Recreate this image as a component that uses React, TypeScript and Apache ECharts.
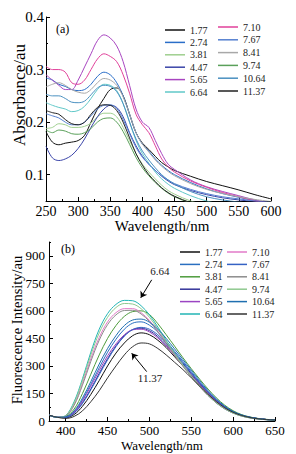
import React, { useEffect, useRef } from 'react';
import * as echarts from 'echarts';

const FONT = '"Liberation Serif", "Times New Roman", serif';

// ---- shared ----
const phLabels = ['1.77', '2.74', '3.81', '4.47', '5.65', '6.64', '7.10', '7.67', '8.41', '9.74', '10.64', '11.37'];

// ---- panel (a): absorbance ----
const absWavelengths = [250, 260, 270, 280, 290, 300, 310, 320, 330, 340, 350, 360, 370, 380, 390, 400, 410, 420, 430, 440, 450, 475, 500, 525, 550, 575, 600];
const absColors = ['#111111', '#2a6ec8', '#9fcf8f', '#3a44a8', '#a845c0', '#60c8c8', '#e0409a', '#5580d0', '#a8a8a8', '#5aa05a', '#4a90c0', '#202020'];
const abs177 = [0.182, 0.162, 0.157, 0.160, 0.162, 0.165, 0.175, 0.200, 0.225, 0.245, 0.262, 0.265, 0.250, 0.215, 0.180, 0.160, 0.148, 0.135, 0.123, 0.115, 0.108, 0.097, 0.087, 0.079, 0.071, 0.062, 0.054];
const abs274 = [0.284, 0.280, 0.272, 0.268, 0.262, 0.260, 0.262, 0.272, 0.287, 0.295, 0.290, 0.275, 0.250, 0.215, 0.180, 0.158, 0.145, 0.130, 0.118, 0.108, 0.100, 0.085, 0.073, 0.064, 0.057, 0.051, 0.047];
const abs381 = [0.188, 0.190, 0.197, 0.195, 0.190, 0.190, 0.192, 0.198, 0.210, 0.217, 0.217, 0.210, 0.190, 0.165, 0.140, 0.120, 0.105, 0.092, 0.080, 0.070, 0.063, 0.050, 0.042, 0.038, 0.035, 0.033, 0.031];
const abs447 = [0.154, 0.132, 0.127, 0.130, 0.137, 0.150, 0.168, 0.190, 0.210, 0.225, 0.232, 0.228, 0.210, 0.180, 0.155, 0.135, 0.120, 0.108, 0.097, 0.088, 0.081, 0.070, 0.062, 0.056, 0.052, 0.049, 0.047];
const abs565 = [0.290, 0.280, 0.270, 0.262, 0.262, 0.280, 0.305, 0.330, 0.355, 0.366, 0.360, 0.345, 0.315, 0.270, 0.225, 0.200, 0.190, 0.165, 0.140, 0.120, 0.110, 0.090, 0.077, 0.068, 0.060, 0.052, 0.046];
const abs664 = [0.237, 0.232, 0.228, 0.225, 0.220, 0.222, 0.230, 0.245, 0.262, 0.272, 0.270, 0.260, 0.235, 0.200, 0.165, 0.140, 0.122, 0.105, 0.092, 0.082, 0.074, 0.060, 0.050, 0.043, 0.039, 0.036, 0.034];
const abs710 = [0.306, 0.300, 0.300, 0.295, 0.275, 0.272, 0.280, 0.300, 0.320, 0.330, 0.325, 0.315, 0.290, 0.255, 0.215, 0.195, 0.180, 0.155, 0.130, 0.115, 0.105, 0.088, 0.076, 0.066, 0.058, 0.050, 0.045];
const abs767 = [0.216, 0.212, 0.208, 0.200, 0.195, 0.195, 0.200, 0.212, 0.225, 0.232, 0.233, 0.226, 0.205, 0.178, 0.152, 0.133, 0.120, 0.108, 0.098, 0.090, 0.083, 0.072, 0.064, 0.058, 0.054, 0.050, 0.047];
const abs841 = [0.267, 0.272, 0.275, 0.270, 0.262, 0.257, 0.255, 0.262, 0.275, 0.283, 0.280, 0.270, 0.248, 0.215, 0.180, 0.158, 0.143, 0.128, 0.116, 0.106, 0.098, 0.083, 0.072, 0.064, 0.058, 0.053, 0.049];
const abs974 = [0.185, 0.180, 0.185, 0.183, 0.178, 0.177, 0.180, 0.188, 0.200, 0.207, 0.208, 0.200, 0.182, 0.158, 0.133, 0.113, 0.098, 0.085, 0.074, 0.065, 0.058, 0.046, 0.038, 0.034, 0.032, 0.030, 0.029];
const abs1064 = [0.253, 0.250, 0.250, 0.245, 0.238, 0.237, 0.240, 0.252, 0.265, 0.270, 0.268, 0.258, 0.235, 0.200, 0.168, 0.145, 0.128, 0.113, 0.100, 0.090, 0.082, 0.068, 0.058, 0.052, 0.048, 0.045, 0.043];
const abs1137 = [0.222, 0.218, 0.215, 0.205, 0.197, 0.195, 0.200, 0.215, 0.228, 0.233, 0.232, 0.222, 0.200, 0.170, 0.140, 0.118, 0.100, 0.087, 0.075, 0.066, 0.059, 0.047, 0.040, 0.036, 0.034, 0.032, 0.030];
const absValues = [abs177, abs274, abs381, abs447, abs565, abs664, abs710, abs767, abs841, abs974, abs1064, abs1137];
const absYLabels = [0.1, 0.2, 0.3, 0.4];
const absYMinor = [0.15, 0.25, 0.35];

// ---- panel (b): fluorescence ----
const fluWavelengths = [380, 390, 400, 410, 420, 430, 440, 450, 460, 470, 480, 490, 500, 510, 520, 530, 540, 550, 560, 570, 580, 590, 600, 610, 620, 630, 640, 650];
const fluColors = ['#111111', '#2a6fc0', '#4d9b3c', '#333399', '#9b45c2', '#22b5b5', '#e27ac8', '#3562c4', '#8c8c8c', '#8fc98f', '#1f6fb0', '#333333'];
const flu177 = [32, 20, 18, 35, 80, 145, 220, 300, 370, 425, 465, 480, 470, 440, 400, 350, 300, 250, 200, 150, 108, 74, 48, 30, 19, 12, 8, 5];
const flu274 = [32, 20, 22, 50, 115, 200, 290, 375, 445, 500, 533, 540, 522, 485, 435, 380, 325, 268, 212, 160, 115, 78, 50, 32, 20, 13, 8, 5];
const flu381 = [32, 20, 25, 65, 150, 255, 360, 450, 520, 570, 596, 600, 580, 530, 470, 408, 345, 285, 228, 174, 126, 86, 56, 35, 22, 14, 9, 5];
const flu447 = [32, 20, 20, 45, 100, 175, 260, 340, 410, 465, 498, 505, 492, 460, 415, 365, 312, 258, 205, 155, 112, 76, 49, 31, 20, 13, 8, 5];
const flu565 = [32, 20, 22, 48, 110, 190, 275, 355, 420, 470, 497, 500, 485, 452, 408, 358, 305, 252, 200, 150, 108, 74, 48, 30, 19, 12, 8, 5];
const flu664 = [32, 20, 30, 105, 230, 375, 500, 585, 635, 657, 655, 628, 578, 512, 440, 370, 305, 245, 190, 140, 98, 66, 43, 27, 17, 11, 7, 4];
const flu710 = [32, 20, 28, 90, 205, 340, 455, 540, 590, 612, 612, 590, 548, 490, 425, 360, 300, 242, 188, 140, 99, 67, 44, 28, 18, 11, 7, 4];
const flu767 = [32, 20, 20, 42, 95, 170, 252, 333, 405, 462, 498, 510, 500, 470, 425, 372, 318, 262, 208, 158, 114, 78, 50, 32, 20, 13, 8, 5];
const flu841 = [32, 20, 27, 85, 195, 325, 440, 525, 578, 602, 603, 583, 542, 485, 422, 358, 298, 240, 187, 139, 98, 66, 43, 27, 17, 11, 7, 4];
const flu974 = [32, 20, 29, 98, 220, 360, 480, 565, 618, 640, 637, 612, 565, 502, 435, 368, 305, 246, 191, 142, 100, 68, 44, 28, 18, 11, 7, 4];
const flu1064 = [32, 20, 23, 55, 125, 215, 310, 395, 465, 520, 550, 555, 538, 500, 450, 393, 335, 277, 220, 166, 120, 81, 52, 33, 21, 13, 8, 5];
const flu1137 = [32, 20, 14, 25, 55, 105, 165, 235, 300, 360, 405, 425, 420, 395, 360, 320, 280, 235, 190, 145, 105, 72, 47, 30, 19, 12, 8, 5];
const fluValues = [flu177, flu274, flu381, flu447, flu565, flu664, flu710, flu767, flu841, flu974, flu1064, flu1137];
const fluXLabels = [400, 450, 500, 550, 600, 650];
const fluXMinor = [425, 475, 525, 575, 625];
const fluYLabels = [0, 150, 300, 450, 600, 750, 900];
const fluYMinor = [75, 225, 375, 525, 675, 825, 975];

// annotations (data coordinates)
const arrowHigh = [[502.7, 769], [489.6, 671]];
const arrowLow = [[496.7, 269], [478.8, 369]];
const labelHigh = { text: '6.64', coord: [512.6, 815] };
const labelLow = { text: '11.37', coord: [500.7, 232] };

export default function App() {
  const ref = useRef<HTMLDivElement>(null);

  useEffect(() => {
    if (!ref.current) return;
    const chart = echarts.init(ref.current, undefined, { renderer: 'svg' });

    const axisLineStyle = { lineStyle: { color: '#000', width: 1 } };
    const tickStyle = { lineStyle: { color: '#000', width: 1 } };

    const absSeries = phLabels.map((ph, i) => ({
      name: 'a' + ph,
      type: 'line',
      xAxisIndex: 0,
      yAxisIndex: 0,
      data: absWavelengths.map((w, j) => [w, absValues[i][j]]),
      smooth: 0.35,
      showSymbol: false,
      symbol: 'none',
      clip: true,
      lineStyle: { color: absColors[i], width: 1 },
      itemStyle: { color: absColors[i] },
    }));

    const fluSeries: any[] = phLabels.map((ph, i) => ({
      name: 'b' + ph,
      type: 'line',
      xAxisIndex: 1,
      yAxisIndex: 1,
      data: fluWavelengths.map((w, j) => [w, fluValues[i][j]]),
      smooth: 0.35,
      showSymbol: false,
      symbol: 'none',
      clip: true,
      lineStyle: { color: fluColors[i], width: 1 },
      itemStyle: { color: fluColors[i] },
    }));
    fluSeries[11].markLine = {
      silent: true,
      symbol: ['none', 'arrow'],
      symbolSize: 6,
      lineStyle: { color: '#000', width: 1, type: 'solid' },
      label: { show: false },
      data: [
        [{ coord: arrowHigh[0] }, { coord: arrowHigh[1] }],
        [{ coord: arrowLow[0] }, { coord: arrowLow[1] }],
      ],
    };
    fluSeries[11].markPoint = {
      silent: true,
      symbol: 'rect',
      symbolSize: 1,
      itemStyle: { color: 'rgba(0,0,0,0)' },
      label: {
        show: true,
        position: 'inside',
        color: '#222',
        fontFamily: FONT,
        fontSize: 11,
        formatter: (p: any) => p.name,
      },
      data: [
        { name: labelHigh.text, coord: labelHigh.coord },
        { name: labelLow.text, coord: labelLow.coord },
      ],
    };

    const legendBase = {
      orient: 'vertical',
      icon: 'rect',
      itemWidth: 20,
      itemHeight: 1.5,
      itemGap: 2.4,
      padding: 0,
      selectedMode: false,
      textStyle: { fontFamily: FONT, fontSize: 10, lineHeight: 10, color: '#222' },
      formatter: (n: string) => n.slice(1),
    };

    const option: any = {
      animation: false,
      backgroundColor: '#fff',
      grid: [
        { left: 46, right: 25, top: 17, bottom: 253 },
        { left: 49, right: 21, top: 242, bottom: 33 },
      ],
      legend: [
        { ...legendBase, left: 165, top: 25, data: phLabels.slice(0, 6).map((p) => 'a' + p) },
        { ...legendBase, left: 218, top: 22, itemGap: 2.8, data: phLabels.slice(6).map((p) => 'a' + p) },
        { ...legendBase, left: 180, top: 247, data: phLabels.slice(0, 6).map((p) => 'b' + p) },
        { ...legendBase, left: 227, top: 247, data: phLabels.slice(6).map((p) => 'b' + p) },
      ],
      xAxis: [
        {
          gridIndex: 0, type: 'value', min: 250, max: 600, interval: 50,
          axisLine: axisLineStyle,
          axisTick: { inside: true, length: 4, ...tickStyle },
          minorTick: { show: true, splitNumber: 2, length: 2, ...tickStyle },
          axisLabel: { fontFamily: FONT, fontSize: 14, color: '#000', margin: 3 },
          splitLine: { show: false }, minorSplitLine: { show: false },
        },
        {
          gridIndex: 1, type: 'value', min: 380, max: 650,
          axisLine: axisLineStyle,
          axisTick: { inside: true, length: 4, customValues: fluXLabels, ...tickStyle },
          axisLabel: { fontFamily: FONT, fontSize: 13, color: '#000', margin: 3, customValues: fluXLabels },
          splitLine: { show: false },
        },
        {
          gridIndex: 1, type: 'value', min: 380, max: 650, position: 'bottom',
          axisLine: { show: false },
          axisTick: { inside: true, length: 2, customValues: fluXMinor, ...tickStyle },
          axisLabel: { show: false },
          splitLine: { show: false },
        },
      ],
      yAxis: [
        {
          gridIndex: 0, type: 'value', min: 0.05, max: 0.4,
          axisLine: { show: true, ...axisLineStyle },
          axisTick: { show: true, inside: true, length: 4, customValues: absYLabels, ...tickStyle },
          axisLabel: { fontFamily: FONT, fontSize: 15, color: '#000', margin: 2, customValues: absYLabels },
          splitLine: { show: false },
        },
        {
          gridIndex: 1, type: 'value', min: 0, max: 975,
          axisLine: { show: true, ...axisLineStyle },
          axisTick: { show: true, inside: true, length: 4, customValues: fluYLabels, ...tickStyle },
          axisLabel: { fontFamily: FONT, fontSize: 13, color: '#000', margin: 4, customValues: fluYLabels },
          splitLine: { show: false },
        },
        {
          gridIndex: 0, type: 'value', min: 0.05, max: 0.4, position: 'left',
          axisLine: { show: false },
          axisTick: { show: true, inside: true, length: 2, customValues: absYMinor, ...tickStyle },
          axisLabel: { show: false },
          splitLine: { show: false },
        },
        {
          gridIndex: 1, type: 'value', min: 0, max: 975, position: 'left',
          axisLine: { show: false },
          axisTick: { show: true, inside: true, length: 2, customValues: fluYMinor, ...tickStyle },
          axisLabel: { show: false },
          splitLine: { show: false },
        },
      ],
      graphic: [
        { type: 'text', x: 19, y: 95, rotation: Math.PI / 2, style: { text: 'Absorbance/au', fontFamily: FONT, fontSize: 17, fill: '#000', align: 'center', verticalAlign: 'middle' } },
        { type: 'text', x: 162, y: 226, style: { text: 'Wavelength/nm', fontFamily: FONT, fontSize: 15, fill: '#000', align: 'center', verticalAlign: 'middle' } },
        { type: 'text', x: 17, y: 330, rotation: Math.PI / 2, style: { text: 'Fluorescence Intensity/au', fontFamily: FONT, fontSize: 14.5, fill: '#000', align: 'center', verticalAlign: 'middle' } },
        { type: 'text', x: 162, y: 445, style: { text: 'Wavelength/nm', fontFamily: FONT, fontSize: 13, fill: '#000', align: 'center', verticalAlign: 'middle' } },
        { type: 'text', x: 56, y: 29, style: { text: '(a)', fontFamily: FONT, fontSize: 12, fill: '#000', align: 'left', verticalAlign: 'middle' } },
        { type: 'text', x: 61, y: 249, style: { text: '(b)', fontFamily: FONT, fontSize: 12, fill: '#000', align: 'left', verticalAlign: 'middle' } },
      ],
      series: [...absSeries, ...fluSeries],
    };

    chart.setOption(option);
    return () => chart.dispose();
  }, []);

  return <div ref={ref} style={{ position: 'fixed', left: 0, top: 0, width: 296, height: 454 }} />;
}
